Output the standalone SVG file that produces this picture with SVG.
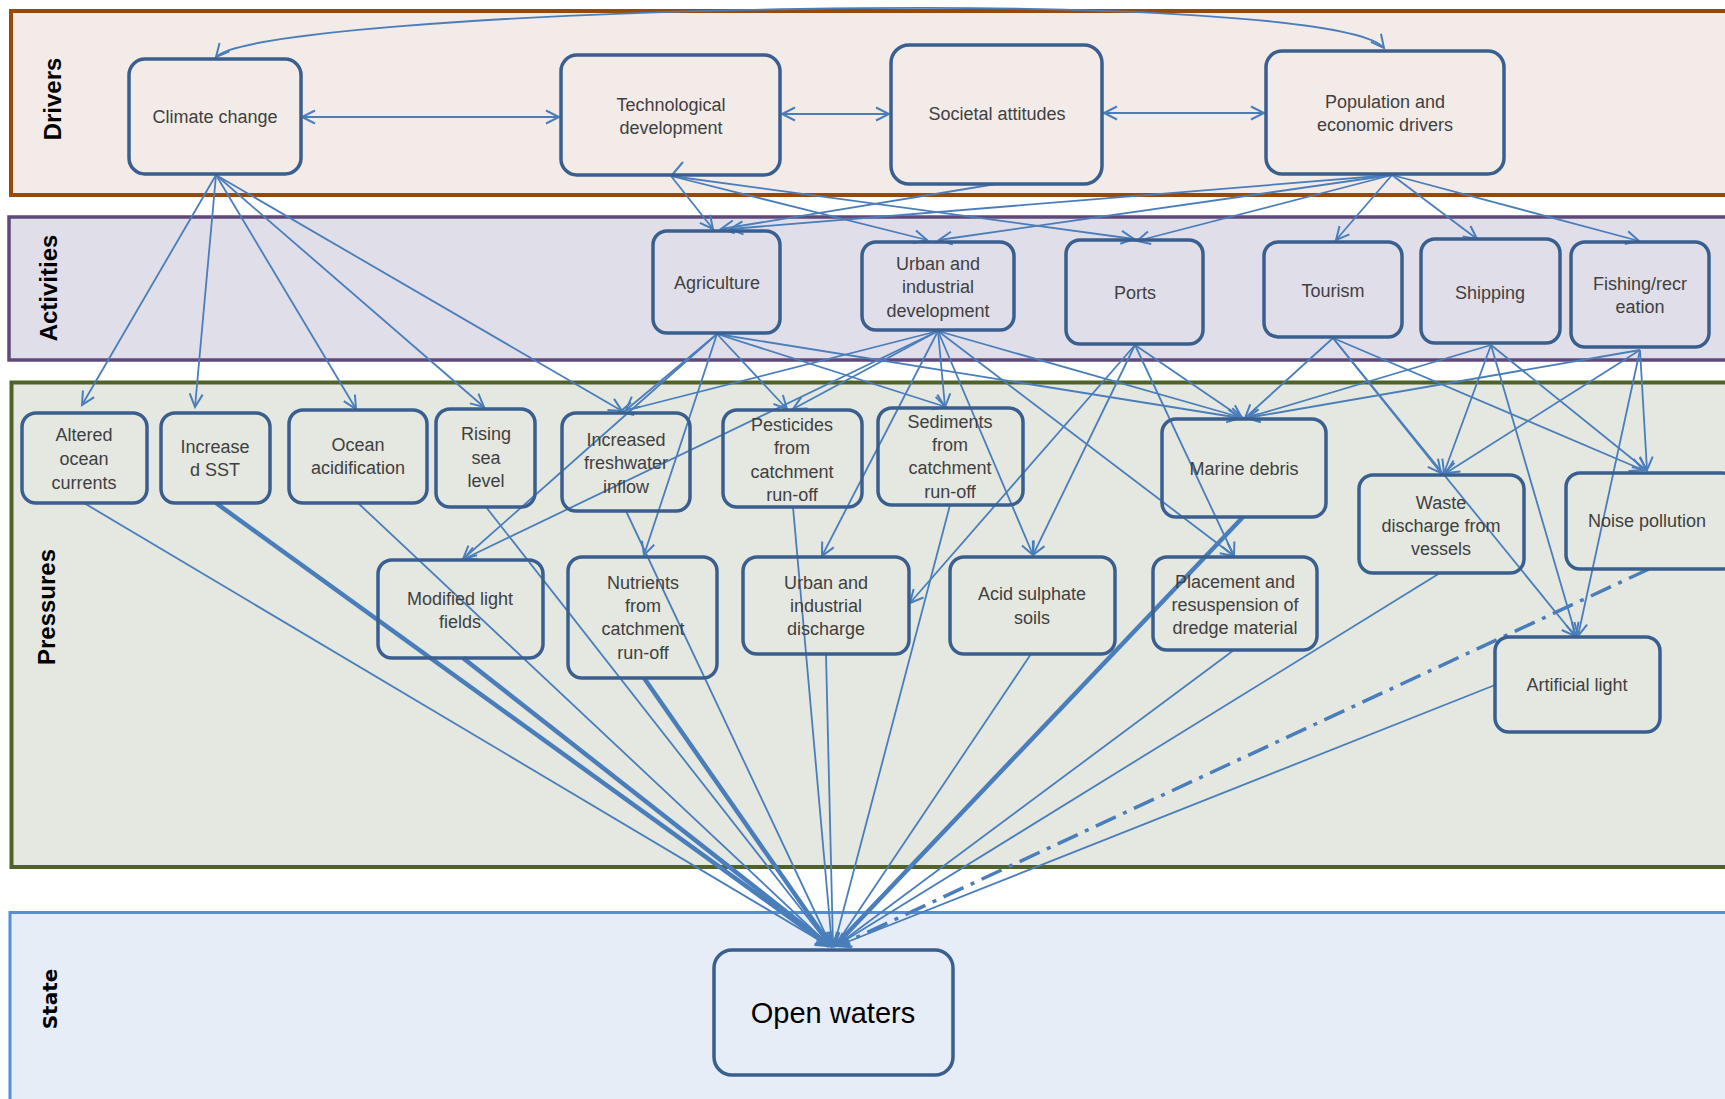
<svg xmlns="http://www.w3.org/2000/svg" width="1725" height="1099" viewBox="0 0 1725 1099">
<defs>
<style>
.band-lbl{font-family:"Liberation Sans",Arial,sans-serif;font-size:24px;font-weight:bold;fill:#000;text-anchor:middle}
.node rect{fill:none;stroke:#3A5F8F;stroke-width:3.5}
.node text{font-family:"Liberation Sans",Arial,sans-serif;font-size:18px;fill:#404040;text-anchor:middle}
.c{fill:none;stroke:#4A7EBB;stroke-width:1.8;marker-end:url(#arr)}
.cb{fill:none;stroke:#4A7EBB;stroke-width:1.8;marker-end:url(#arr);marker-start:url(#arr)}
.ct{fill:none;stroke:#4A7EBB;stroke-width:4.5;marker-end:url(#arr)}
.cd{fill:none;stroke:#4A7EBB;stroke-width:3.5;stroke-dasharray:22 8 4 8;marker-end:url(#arr)}
</style>
<marker id="arr" markerUnits="userSpaceOnUse" viewBox="-16 -9 18 18" refX="0" refY="0" markerWidth="18" markerHeight="18" orient="auto-start-reverse" overflow="visible">
<path d="M-13,-6.5 L0,0 L-13,6.5" fill="none" stroke="#4A7EBB" stroke-width="2"/>
</marker>
</defs>
<rect width="1725" height="1099" fill="#fff"/>
<g id="bands">
<rect x="11" y="11" width="1740" height="184" fill="#F2EBE8" stroke="#984807" stroke-width="4"/>
<rect x="9" y="217" width="1740" height="143" fill="#E0DEE8" stroke="#5F497A" stroke-width="3.5"/>
<rect x="11.5" y="382.5" width="1740" height="484.5" fill="#E4E8E1" stroke="#4F6228" stroke-width="4"/>
<rect x="10" y="912.5" width="1740" height="200" fill="#E6EDF7" stroke="#558ED5" stroke-width="3"/>
<text class="band-lbl" transform="translate(61,99) rotate(-90)">Drivers</text>
<text class="band-lbl" transform="translate(57,288) rotate(-90)">Activities</text>
<text class="band-lbl" transform="translate(55,607) rotate(-90)">Pressures</text>
<text transform="translate(57,999) rotate(-90)" style="font-family:'DejaVu Sans',sans-serif;font-size:20px;font-weight:bold;text-anchor:middle">State</text>
</g>
<g id="connectors">
<!-- drivers -->
<path class="cb" d="M216,57 C235,35 480,14 800,9 C1100,4 1360,18 1384,48"/>
<line class="cb" x1="302" y1="117" x2="559" y2="117"/>
<line class="cb" x1="782" y1="114" x2="889" y2="114"/>
<line class="cb" x1="1104" y1="113" x2="1264" y2="113"/>
<line x1="683" y1="162" x2="672" y2="175" fill="none" stroke="#4A7EBB" stroke-width="2"/>
<!-- drivers to activities -->
<line class="c" x1="671" y1="176" x2="713" y2="229"/>
<line class="c" x1="671" y1="176" x2="927" y2="240"/>
<line class="c" x1="671" y1="176" x2="1134" y2="239"/>
<line class="c" x1="996" y1="184" x2="721" y2="229"/>
<line class="c" x1="1392" y1="175" x2="730" y2="229"/>
<line class="c" x1="1392" y1="175" x2="939" y2="240"/>
<line class="c" x1="1392" y1="175" x2="1137" y2="241"/>
<line class="c" x1="1392" y1="175" x2="1336" y2="240"/>
<line class="c" x1="1392" y1="175" x2="1477" y2="239"/>
<line class="c" x1="1392" y1="175" x2="1639" y2="241"/>
<!-- climate to pressures -->
<line class="c" x1="216" y1="175" x2="82" y2="405"/>
<line class="c" x1="216" y1="175" x2="195" y2="407"/>
<line class="c" x1="216" y1="175" x2="356" y2="409"/>
<line class="c" x1="216" y1="175" x2="484" y2="407"/>
<line class="c" x1="216" y1="175" x2="622" y2="411"/>
<!-- agriculture -->
<line class="c" x1="717" y1="334" x2="626" y2="410"/>
<line class="c" x1="717" y1="334" x2="463" y2="559"/>
<line class="c" x1="717" y1="334" x2="644" y2="555"/>
<line class="c" x1="717" y1="334" x2="787" y2="409"/>
<line class="c" x1="717" y1="334" x2="946" y2="407"/>
<line class="c" x1="717" y1="334" x2="1240" y2="418"/>
<!-- urban development -->
<line class="c" x1="938" y1="331" x2="620" y2="412"/>
<line class="c" x1="938" y1="331" x2="793" y2="409"/>
<line class="c" x1="938" y1="331" x2="464" y2="559"/>
<line class="c" x1="938" y1="331" x2="822" y2="556"/>
<line class="c" x1="938" y1="331" x2="945" y2="407"/>
<line class="c" x1="938" y1="331" x2="1033" y2="555"/>
<line class="c" x1="938" y1="331" x2="1234" y2="556"/>
<line class="c" x1="938" y1="331" x2="1243" y2="418"/>
<!-- ports -->
<line class="c" x1="1135" y1="345" x2="910" y2="603"/>
<line class="c" x1="1135" y1="345" x2="1033" y2="555"/>
<line class="c" x1="1135" y1="345" x2="1234" y2="556"/>
<line class="c" x1="1135" y1="345" x2="1242" y2="418"/>
<!-- tourism -->
<line class="c" x1="1333" y1="338" x2="1245" y2="418"/>
<line class="c" x1="1333" y1="338" x2="1441" y2="473"/>
<line class="c" x1="1333" y1="338" x2="1575" y2="636"/>
<line class="c" x1="1333" y1="338" x2="1643" y2="470"/>
<!-- shipping -->
<line class="c" x1="1491" y1="345" x2="1246" y2="418"/>
<line class="c" x1="1491" y1="345" x2="1444" y2="473"/>
<line class="c" x1="1491" y1="345" x2="1576" y2="636"/>
<line class="c" x1="1491" y1="345" x2="1646" y2="470"/>
<!-- fishing -->
<line class="c" x1="1640" y1="350" x2="1247" y2="418"/>
<line class="c" x1="1640" y1="350" x2="1446" y2="473"/>
<line class="c" x1="1640" y1="350" x2="1647" y2="470"/>
<line class="c" x1="1640" y1="350" x2="1578" y2="636"/>
<!-- pressures to open waters -->
<line class="c" x1="84" y1="503" x2="829" y2="946"/>
<line class="ct" x1="216" y1="503" x2="829" y2="946"/>
<line class="c" x1="358" y1="503" x2="830" y2="946"/>
<line class="c" x1="486" y1="507" x2="830" y2="946"/>
<line class="c" x1="626" y1="511" x2="831" y2="946"/>
<line class="ct" x1="463" y1="658" x2="830" y2="946"/>
<line class="ct" x1="644" y1="678" x2="831" y2="946"/>
<line class="c" x1="793" y1="507" x2="832" y2="946"/>
<line class="c" x1="950" y1="505" x2="834" y2="946"/>
<line class="c" x1="826" y1="654" x2="833" y2="946"/>
<line class="c" x1="1031" y1="654" x2="835" y2="946"/>
<line class="ct" x1="1243" y1="517" x2="835" y2="946"/>
<line class="c" x1="1234" y1="650" x2="836" y2="946"/>
<line class="c" x1="1440" y1="573" x2="836" y2="946"/>
<line class="c" x1="1495" y1="685" x2="837" y2="946"/>
<line class="cd" x1="1649" y1="569" x2="838" y2="946"/>
</g>
<g id="n-climate" class="node"><rect x="129" y="59" width="172" height="115" rx="16"/><text x="215" y="123">Climate change</text></g>
<g id="n-tech" class="node"><rect x="561" y="55" width="219" height="120" rx="16"/><text x="671" y="111">Technological</text><text x="671" y="134">development</text></g>
<g id="n-societal" class="node"><rect x="891" y="45" width="211" height="139" rx="18"/><text x="997" y="120">Societal attitudes</text></g>
<g id="n-population" class="node"><rect x="1266" y="51" width="238" height="123" rx="16"/><text x="1385" y="108">Population and</text><text x="1385" y="131">economic drivers</text></g>
<g id="n-agriculture" class="node"><rect x="653" y="231" width="127" height="102" rx="14"/><text x="717" y="289">Agriculture</text></g>
<g id="n-urbandev" class="node"><rect x="862" y="242" width="152" height="88" rx="14"/><text x="938" y="270">Urban and</text><text x="938" y="293">industrial</text><text x="938" y="317">development</text></g>
<g id="n-ports" class="node"><rect x="1066" y="240" width="137" height="104" rx="14"/><text x="1135" y="299">Ports</text></g>
<g id="n-tourism" class="node"><rect x="1264" y="242" width="138" height="95" rx="14"/><text x="1333" y="297">Tourism</text></g>
<g id="n-shipping" class="node"><rect x="1421" y="239" width="139" height="104" rx="14"/><text x="1490" y="299">Shipping</text></g>
<g id="n-fishing" class="node"><rect x="1571" y="242" width="138" height="105" rx="14"/><text x="1640" y="290">Fishing/recr</text><text x="1640" y="313">eation</text></g>
<g id="n-altered" class="node"><rect x="22" y="413" width="125" height="90" rx="14"/><text x="84" y="441">Altered</text><text x="84" y="465">ocean</text><text x="84" y="489">currents</text></g>
<g id="n-sst" class="node"><rect x="161" y="413" width="109" height="90" rx="14"/><text x="215" y="453">Increase</text><text x="215" y="476">d SST</text></g>
<g id="n-acidification" class="node"><rect x="289" y="410" width="138" height="93" rx="14"/><text x="358" y="451">Ocean</text><text x="358" y="474">acidification</text></g>
<g id="n-rising" class="node"><rect x="436" y="409" width="99" height="98" rx="14"/><text x="486" y="440">Rising</text><text x="486" y="464">sea</text><text x="486" y="487">level</text></g>
<g id="n-freshwater" class="node"><rect x="562" y="413" width="128" height="98" rx="14"/><text x="626" y="446">Increased</text><text x="626" y="469">freshwater</text><text x="626" y="493">inflow</text></g>
<g id="n-pesticides" class="node"><rect x="723" y="410" width="139" height="97" rx="14"/><text x="792" y="431">Pesticides</text><text x="792" y="454">from</text><text x="792" y="478">catchment</text><text x="792" y="501">run-off</text></g>
<g id="n-sediments" class="node"><rect x="878" y="408" width="145" height="97" rx="14"/><text x="950" y="428">Sediments</text><text x="950" y="451">from</text><text x="950" y="474">catchment</text><text x="950" y="498">run-off</text></g>
<g id="n-marine" class="node"><rect x="1162" y="419" width="164" height="98" rx="14"/><text x="1244" y="475">Marine debris</text></g>
<g id="n-waste" class="node"><rect x="1359" y="475" width="165" height="98" rx="14"/><text x="1441" y="509">Waste</text><text x="1441" y="532">discharge from</text><text x="1441" y="555">vessels</text></g>
<g id="n-noise" class="node"><rect x="1566" y="473" width="170" height="96" rx="14"/><text x="1647" y="527">Noise pollution</text></g>
<g id="n-modlight" class="node"><rect x="378" y="560" width="165" height="98" rx="14"/><text x="460" y="605">Modified light</text><text x="460" y="628">fields</text></g>
<g id="n-nutrients" class="node"><rect x="568" y="557" width="149" height="121" rx="14"/><text x="643" y="589">Nutrients</text><text x="643" y="612">from</text><text x="643" y="635">catchment</text><text x="643" y="659">run-off</text></g>
<g id="n-urbandis" class="node"><rect x="743" y="557" width="166" height="97" rx="14"/><text x="826" y="589">Urban and</text><text x="826" y="612">industrial</text><text x="826" y="635">discharge</text></g>
<g id="n-acidsoil" class="node"><rect x="950" y="557" width="165" height="97" rx="14"/><text x="1032" y="600">Acid sulphate</text><text x="1032" y="624">soils</text></g>
<g id="n-dredge" class="node"><rect x="1153" y="557" width="164" height="93" rx="14"/><text x="1235" y="588">Placement and</text><text x="1235" y="611">resuspension of</text><text x="1235" y="634">dredge material</text></g>
<g id="n-artlight" class="node"><rect x="1495" y="637" width="165" height="95" rx="14"/><text x="1577" y="691">Artificial light</text></g>
<g id="n-openwaters" class="node"><rect x="714" y="950" width="239" height="125" rx="18"/><text x="833" y="1023" style="font-size:29px;fill:#000">Open waters</text></g>
</svg>
